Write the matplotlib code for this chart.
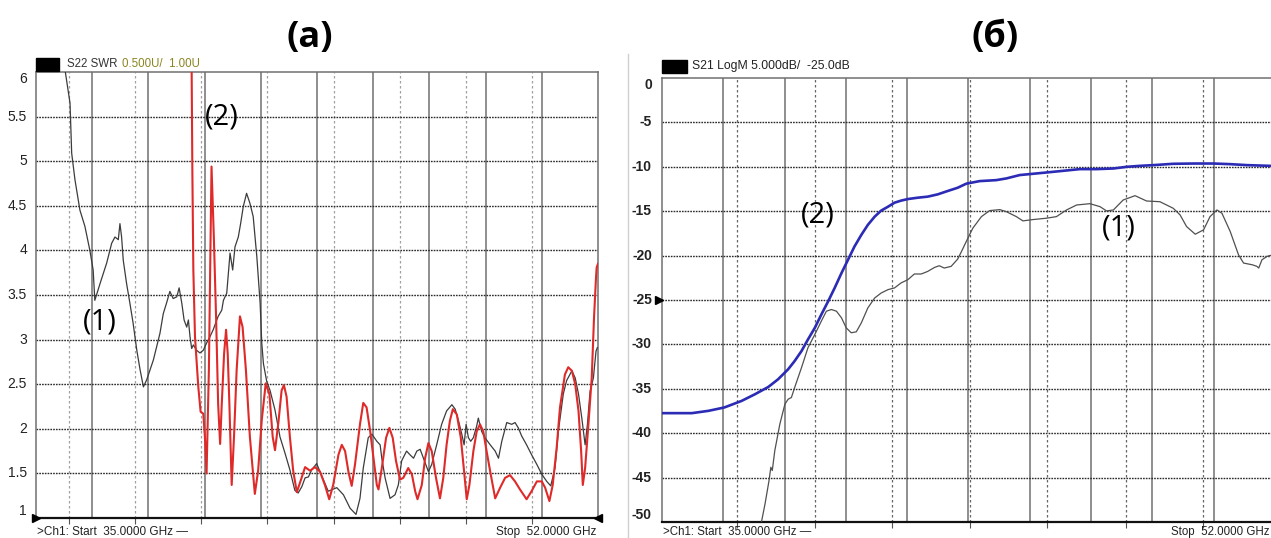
import matplotlib
matplotlib.use("Agg")
import matplotlib.pyplot as plt
from matplotlib.patches import Rectangle

# частотный диапазон анализатора, ГГц
f_start, f_stop = 35.0, 52.0

# ---------- (а) S22 КСВ ----------
swr1_f = [35.00, 35.60, 35.88, 36.03, 36.08, 36.18, 36.33, 36.48, 36.63, 36.73,
          36.78, 36.94, 37.14, 37.29, 37.39, 37.49, 37.54, 37.59, 37.64, 37.74,
          37.84, 37.94, 38.05, 38.15, 38.25, 38.35, 38.55, 38.75, 38.85, 38.95,
          39.05, 39.15, 39.26, 39.33, 39.41, 39.48, 39.56, 39.61, 39.66, 39.71,
          39.76, 39.86, 39.96, 40.06, 40.16, 40.26, 40.36, 40.51, 40.62, 40.67,
          40.77, 40.87, 40.95, 41.02, 41.12, 41.19, 41.27, 41.37, 41.47, 41.57,
          41.68, 41.78, 41.83, 41.88, 41.98, 42.08, 42.23, 42.38, 42.53, 42.68,
          42.83, 42.93, 43.04, 43.14, 43.24, 43.34, 43.49, 43.59, 43.84, 44.10,
          44.30, 44.50, 44.68, 44.80, 44.90, 45.05, 45.16, 45.31, 45.41, 45.46,
          45.56, 45.71, 45.86, 45.96, 46.06, 46.21, 46.31, 46.42, 46.52, 46.62,
          46.72, 46.87, 46.97, 47.12, 47.27, 47.42, 47.58, 47.68, 47.78, 47.88,
          47.95, 48.01, 48.08, 48.15, 48.23, 48.33, 48.38, 48.48, 48.58, 48.74,
          48.89, 48.99, 49.09, 49.24, 49.39, 49.49, 49.59, 49.69, 49.84, 49.99,
          50.15, 50.30, 50.45, 50.57, 50.70, 50.80, 50.95, 51.05, 51.21, 51.31,
          51.41, 51.51, 51.61, 51.68, 51.76, 51.86, 51.94, 51.98]
swr1 = [7.90, 6.60, 6.02, 5.65, 5.09, 4.79, 4.45, 4.27, 4.00, 3.78,
        3.44, 3.63, 3.86, 4.08, 4.15, 4.12, 4.30, 4.15, 3.89, 3.63,
        3.41, 3.18, 2.88, 2.66, 2.47, 2.55, 2.77, 3.07, 3.29, 3.41,
        3.54, 3.46, 3.48, 3.58, 3.41, 3.22, 3.14, 3.22, 3.03, 2.90,
        2.94, 2.88, 2.85, 2.88, 2.96, 3.03, 3.11, 3.26, 3.33, 3.44,
        3.52, 3.97, 3.78, 4.04, 4.15, 4.30, 4.49, 4.64, 4.53, 4.38,
        3.93, 3.41, 2.96, 2.73, 2.53, 2.43, 2.21, 1.91, 1.73, 1.54,
        1.31, 1.28, 1.35, 1.45, 1.46, 1.54, 1.61, 1.52, 1.30, 1.34,
        1.26, 1.11, 1.04, 1.22, 1.56, 1.90, 1.94, 1.86, 1.82, 1.67,
        1.45, 1.22, 1.26, 1.37, 1.64, 1.75, 1.71, 1.67, 1.75, 1.77,
        1.67, 1.52, 1.60, 1.82, 2.05, 2.20, 2.27, 2.22, 2.09, 1.94,
        1.82, 2.05, 1.90, 1.86, 1.90, 2.03, 2.12, 1.97, 1.90, 1.82,
        1.75, 1.67, 1.86, 2.07, 2.05, 2.07, 2.01, 1.92, 1.82, 1.71,
        1.60, 1.49, 1.41, 1.36, 1.56, 1.97, 2.39, 2.54, 2.65, 2.57,
        2.39, 2.12, 1.82, 2.05, 2.42, 2.57, 2.87, 2.91]

swr2_f = [39.70, 39.73, 39.76, 39.81, 39.91, 39.98, 40.06, 40.11, 40.16, 40.23,
          40.31, 40.38, 40.45, 40.51, 40.57, 40.62, 40.69, 40.75, 40.80, 40.85,
          40.92, 40.99, 41.07, 41.17, 41.25, 41.35, 41.47, 41.62, 41.72, 41.83,
          41.95, 42.06, 42.16, 42.23, 42.33, 42.43, 42.50, 42.58, 42.68, 42.78,
          42.89, 42.99, 43.14, 43.29, 43.44, 43.59, 43.74, 43.87, 43.99, 44.15,
          44.25, 44.35, 44.45, 44.55, 44.65, 44.80, 44.90, 45.00, 45.11, 45.21,
          45.31, 45.36, 45.46, 45.59, 45.69, 45.79, 45.89, 46.01, 46.11, 46.26,
          46.37, 46.47, 46.54, 46.67, 46.77, 46.87, 46.97, 47.10, 47.22, 47.32,
          47.42, 47.52, 47.61, 47.73, 47.85, 47.95, 48.03, 48.11, 48.23, 48.33,
          48.43, 48.53, 48.63, 48.74, 48.89, 49.04, 49.19, 49.34, 49.49, 49.64,
          49.84, 49.99, 50.15, 50.30, 50.40, 50.53, 50.63, 50.75, 50.85, 51.00,
          51.10, 51.21, 51.31, 51.41, 51.49, 51.54, 51.61, 51.71, 51.81, 51.88,
          51.94, 51.96, 52.00]
swr2 = [6.50, 4.90, 3.78, 3.03, 2.47, 2.19, 2.17, 1.91, 1.50, 2.66,
        4.94, 4.15, 3.22, 2.28, 1.83, 2.28, 2.84, 3.11, 2.84, 2.28,
        1.37, 1.91, 2.66, 3.26, 3.14, 2.66, 1.91, 1.27, 1.53, 2.10,
        2.51, 2.39, 1.91, 1.76, 2.06, 2.43, 2.49, 2.36, 1.91, 1.53,
        1.29, 1.40, 1.57, 1.53, 1.57, 1.52, 1.37, 1.21, 1.37, 1.71,
        1.82, 1.75, 1.52, 1.36, 1.60, 2.05, 2.29, 2.24, 1.97, 1.67,
        1.37, 1.32, 1.56, 1.90, 2.01, 1.90, 1.64, 1.43, 1.45, 1.56,
        1.49, 1.30, 1.21, 1.37, 1.67, 1.84, 1.75, 1.45, 1.22, 1.45,
        1.82, 2.09, 2.22, 2.16, 1.90, 1.52, 1.21, 1.37, 1.75, 1.97,
        2.05, 1.97, 1.75, 1.52, 1.22, 1.34, 1.45, 1.48, 1.41, 1.32,
        1.21, 1.30, 1.41, 1.41, 1.34, 1.19, 1.37, 1.79, 2.24, 2.61,
        2.69, 2.65, 2.50, 2.20, 1.75, 1.37, 1.56, 2.05, 2.57, 3.25,
        3.70, 3.81, 3.85]

swr_ticks = [1, 1.5, 2, 2.5, 3, 3.5, 4, 4.5, 5, 5.5, 6]
swr_labels = ["1", "1.5", "2", "2.5", "3", "3.5", "4", "4.5", "5", "5.5", "6"]
marks_a = [36, 38, 40, 42, 44, 46, 48, 50]

# ---------- (б) S21 LogM ----------
s21_2_f = [35.00, 35.83, 36.29, 36.73, 37.21, 37.58, 37.95, 38.22, 38.50, 38.68,
           38.87, 39.05, 39.24, 39.42, 39.61, 39.79, 39.98, 40.16, 40.34, 40.53,
           40.71, 40.90, 41.08, 41.27, 41.45, 41.63, 41.82, 42.09, 42.37, 42.65,
           42.92, 43.20, 43.44, 43.81, 44.27, 44.55, 44.92, 45.20, 45.66, 46.13,
           46.59, 47.05, 47.52, 47.89, 48.26, 48.63, 49.18, 49.74, 50.30, 50.76,
           51.22, 51.85, 52.00]
s21_2 = [-37.74, -37.74, -37.48, -37.10, -36.36, -35.61, -34.79, -33.93, -32.80, -31.87,
         -30.75, -29.44, -28.13, -26.64, -25.14, -23.64, -21.96, -20.47, -18.97, -17.66,
         -16.54, -15.61, -14.93, -14.49, -14.04, -13.81, -13.63, -13.48, -13.36, -13.10,
         -12.73, -12.36, -11.90, -11.61, -11.50, -11.31, -10.93, -10.82, -10.64, -10.45,
         -10.26, -10.26, -10.19, -10.00, -9.89, -9.81, -9.66, -9.63, -9.63, -9.70,
         -9.81, -9.89, -9.92]

s21_1_f = [37.70, 37.75, 37.86, 37.97, 38.02, 38.06, 38.13, 38.27, 38.41, 38.50,
           38.59, 38.68, 38.87, 39.05, 39.24, 39.42, 39.56, 39.70, 39.84, 39.98,
           40.11, 40.25, 40.39, 40.53, 40.71, 40.90, 41.08, 41.27, 41.45, 41.63,
           41.82, 42.00, 42.19, 42.37, 42.56, 42.69, 42.83, 43.02, 43.20, 43.30,
           43.44, 43.62, 43.86, 44.09, 44.37, 44.55, 44.83, 45.01, 45.29, 45.66,
           45.94, 46.22, 46.50, 46.87, 47.15, 47.33, 47.52, 47.79, 48.12, 48.44,
           48.81, 49.18, 49.37, 49.55, 49.79, 50.02, 50.20, 50.39, 50.53, 50.76,
           50.99, 51.13, 51.37, 51.50, 51.55, 51.64, 51.78, 51.85, 52.00]
s21_1 = [-51.00, -50.20, -47.94, -45.33, -43.83, -44.20, -41.96, -38.97, -36.73, -36.17,
         -35.98, -34.86, -32.62, -30.37, -28.88, -27.38, -26.26, -26.07, -26.26, -27.01,
         -28.13, -28.69, -28.58, -27.57, -25.89, -24.77, -24.21, -23.83, -23.64, -23.08,
         -22.71, -22.07, -22.07, -21.78, -21.33, -21.14, -21.40, -21.21, -20.40, -19.60,
         -18.41, -16.92, -15.61, -14.93, -14.82, -15.05, -15.61, -16.09, -15.94, -15.79,
         -15.61, -14.86, -14.30, -14.15, -14.49, -14.97, -14.86, -13.74, -13.25, -13.85,
         -13.93, -14.67, -15.42, -16.73, -17.59, -17.10, -15.61, -14.86, -15.23, -17.29,
         -19.91, -20.84, -21.03, -21.21, -21.40, -20.47, -20.09, -20.00, -19.90]

db_ticks = [0, -5, -10, -15, -20, -25, -30, -35, -40, -45, -50]
db_labels = [str(v) for v in db_ticks]
marks_b = [37.08, 39.24, 41.38, 43.54, 45.68, 47.87, 50.00]
ref_level = -25.0


def vna_grid(ax, ymin, ymax, yticks, marks, mark_color, mark_ls):
    ax.set_xlim(f_start, f_stop)
    ax.set_ylim(ymin, ymax)
    div = (f_stop - f_start) / 10
    for k in range(1, 10):
        ax.axvline(f_start + k * div, color="#707070", lw=1.1, zorder=1)
    for m in marks:
        ax.axvline(m, color=mark_color, lw=0.9, ls=mark_ls, zorder=1)
    for v in yticks[1:-1]:
        ax.axhline(v, color="#2a2a2a", lw=1.0, ls=(0, (1.2, 0.8)), zorder=1)
    ax.set_xticks(marks)
    ax.set_xticklabels([])
    ax.set_yticks([])
    ax.tick_params(axis="x", direction="out", length=4, width=0.8, color="#555")
    for s in ("top", "left", "right"):
        ax.spines[s].set_color("#707070")
        ax.spines[s].set_linewidth(1.1)
    ax.spines["bottom"].set_color("#111")
    ax.spines["bottom"].set_linewidth(1.6)


def y_labels(ax, ticks, labels, pad, weight, size):
    for i, (v, lab) in enumerate(zip(ticks, labels)):
        va = "center"
        if i == 0:
            va = "bottom"
        elif i == len(ticks) - 1:
            va = "top"
        ax.annotate(lab, xy=(0, v), xycoords=("axes fraction", "data"),
                    xytext=(-pad, 0), textcoords="offset pixels",
                    ha="right", va=va, fontsize=size, fontweight=weight,
                    family="Liberation Sans", color="#222")


fig = plt.figure(figsize=(12.71, 5.38), dpi=100)
fig.patch.set_facecolor("white")

# ---- панель (а) ----
ax1 = fig.add_axes([0.0283, 0.0372, 0.4422, 0.829])
vna_grid(ax1, 1, 6, swr_ticks, marks_a, "#a0a0a0", (0, (2, 2)))
ax1.plot(swr1_f, swr1, color="#3c3c3c", lw=0.9, zorder=3)
ax1.plot(swr2_f, swr2, color="#df2a2a", lw=1.5, zorder=4)
y_labels(ax1, swr_ticks, swr_labels, 9, "normal", 10)
ax1.plot([f_start], [1], marker=">", color="black", ms=6, clip_on=False, zorder=6)
ax1.plot([f_stop], [1], marker="<", color="black", ms=6, clip_on=False, zorder=6)
ax1.text(40.62, 5.50, "(2)", fontsize=21, family="Open Sans", ha="center", va="center", zorder=5)
ax1.text(36.94, 3.20, "(1)", fontsize=21, family="Open Sans", ha="center", va="center", zorder=5)

# ---- панель (б) ----
ax2 = fig.add_axes([0.5208, 0.0297, 0.4823, 0.8253])
vna_grid(ax2, -50, 0, db_ticks[::-1], marks_b, "#666666", (0, (2, 2)))
ax2.plot(s21_1_f, s21_1, color="#505050", lw=0.9, zorder=3)
ax2.plot(s21_2_f, s21_2, color="#2b2bb5", lw=1.9, zorder=4)
y_labels(ax2, db_ticks[::-1], db_labels[::-1], 10, "bold", 10)
ax2.plot([f_start - 0.08], [ref_level], marker=">", color="black", ms=6, clip_on=False, zorder=6)
ax2.text(39.31, -15.4, "(2)", fontsize=21, family="Open Sans", ha="center", va="center", zorder=5)
ax2.text(47.67, -16.9, "(1)", fontsize=21, family="Open Sans", ha="center", va="center", zorder=5)

# ---- заголовки панелей ----
fig.text(0.2439, 0.929, "(a)", fontsize=26, fontweight="bold", family="Open Sans",
         ha="center", va="center")
fig.text(0.7828, 0.929, "(б)", fontsize=26, fontweight="bold", family="Open Sans",
         ha="center", va="center")

# ---- строки состояния анализатора ----
fig.add_artist(Rectangle((0.0283, 0.868), 0.0181, 0.0242, transform=fig.transFigure,
                         color="black"))
fig.text(0.0527, 0.881, "S22 SWR", fontsize=8.3, family="Liberation Sans",
         color="#333", va="center")
fig.text(0.0958, 0.881, "0.500U/  1.00U", fontsize=8.3, family="Liberation Sans",
         color="#8a8520", va="center")
fig.add_artist(Rectangle((0.5208, 0.8643), 0.0197, 0.0242, transform=fig.transFigure,
                         color="black"))
fig.text(0.5445, 0.8773, "S21 LogM 5.000dB/  -25.0dB", fontsize=8.8,
         family="Liberation Sans", color="#222", va="center")

fig.text(0.0291, 0.0112, ">Ch1: Start  35.0000 GHz \u2014", fontsize=8.5,
         family="Liberation Sans", color="#222", va="center")
fig.text(0.4689, 0.0112, "Stop  52.0000 GHz", fontsize=8.5,
         family="Liberation Sans", color="#222", va="center", ha="right")
fig.text(0.5220, 0.0004, ">Ch1: Start  35.0000 GHz \u2014", fontsize=8.3,
         family="Liberation Sans", color="#222", va="bottom")
fig.text(0.9990, 0.0004, "Stop  52.0000 GHz", fontsize=8.3,
         family="Liberation Sans", color="#222", va="bottom", ha="right")

# тонкая граница между скриншотами
fig.add_artist(plt.Line2D([0.494, 0.494], [0.0, 0.9], transform=fig.transFigure,
                          color="#d0d0d0", lw=1))

fig.savefig("out.png", dpi=100)
